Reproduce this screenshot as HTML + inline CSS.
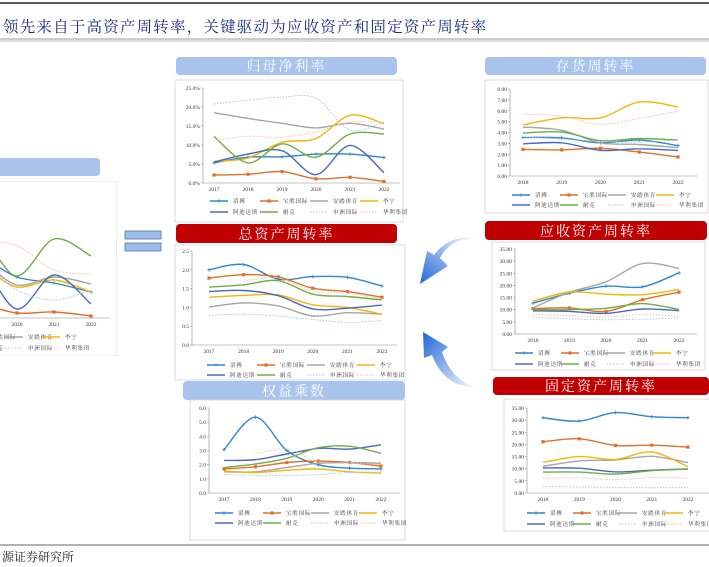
<!DOCTYPE html>
<html><head><meta charset="utf-8"><style>
html,body{margin:0;padding:0;background:#fff;}
svg{display:block;font-family:"Liberation Serif","Noto Serif CJK SC",serif;}
</style></head><body>
<svg id="s" width="709" height="567" viewBox="0 0 709 567" xmlns="http://www.w3.org/2000/svg">
<defs>
<linearGradient id="ag1" x1="1" y1="0" x2="0" y2="1"><stop offset="0" stop-color="#ffffff"/><stop offset="1" stop-color="#1f66d6"/></linearGradient>
<linearGradient id="ag2" x1="1" y1="1" x2="0" y2="0"><stop offset="0" stop-color="#ffffff"/><stop offset="1" stop-color="#1f66d6"/></linearGradient>
<clipPath id="cl"><rect x="0" y="181" width="117" height="175"/></clipPath>
</defs>
<line x1="0" y1="3" x2="709" y2="3" stroke="#222" stroke-width="1.5"/>
<text x="3" y="32" font-size="15.5" fill="#1a2a8a" letter-spacing="1.2" font-family="'Noto Serif CJK SC',serif">领先来自于高资产周转率，关键驱动为应收资产和固定资产周转率</text>
<line x1="0" y1="39" x2="709" y2="39" stroke="#999" stroke-width="1"/>
<line x1="0" y1="41" x2="709" y2="41" stroke="#bbb" stroke-width="1"/>
<line x1="0" y1="545" x2="709" y2="545" stroke="#333" stroke-width="0.8"/>
<text x="2" y="561" font-size="12" fill="#222" font-family="'Noto Serif CJK SC',serif">源证券研究所</text>
<rect x="125" y="231" width="36" height="8" fill="#9dbbeb" stroke="#5577aa" stroke-width="0.8"/>
<rect x="125" y="243" width="36" height="8" fill="#9dbbeb" stroke="#5577aa" stroke-width="0.8"/>
<path d="M478,240 C462,236 447,244 440,258 L448,266 L420,284 L427,251 L434,255 C445,240 462,234 478,240 Z" fill="url(#ag1)"/>
<path d="M478,386 C462,385 449,372 442,352 L448,347 L423,332 L424,358 L432,355 C440,377 458,390 478,386 Z" fill="url(#ag2)"/>
<g id="charts"></g>
</svg>
<script>
const names=["滔搏","宝胜国际","安踏体育","李宁","阿迪达斯","耐克","申洲国际","华利集团"];
const colors=["#2f86c8","#e0702a","#a5a5a5","#f2b705","#4a68c0","#6fae45","#a9c8ee","#f6bfa5"];
const yrs6=["2017","2018","2019","2020","2021","2022"];
const yrs5=["2018","2019","2020","2021","2022"];
// 归母净利率 (%)
const npm_taobo=[5.3,6.8,6.9,7.6,7.6,6.7];
const npm_baosheng=[2.1,2.3,3.0,1.1,1.5,0.4];
const npm_anta=[18.5,17.0,15.7,14.5,15.7,14.2];
const npm_lining=[5.7,6.6,10.7,11.7,17.8,15.6];
const npm_adidas=[5.5,7.6,8.5,2.2,9.9,2.7];
const npm_nike=[12.3,5.3,10.3,6.8,12.9,12.9];
const npm_shenzhou=[20.8,21.8,22.6,22.3,14.0,16.0];
const npm_huali=[11.2,12.3,12.0,13.5,16.0,16.0];
const npm_ticks=[0,5,10,15,20,25];
// 总资产周转率
const tat_taobo=[2.0,2.14,1.75,1.82,1.8,1.57];
const tat_baosheng=[1.78,1.87,1.81,1.51,1.42,1.27];
const tat_anta=[1.01,1.12,1.04,0.77,0.86,0.82];
const tat_lining=[1.27,1.32,1.33,1.07,1.0,0.82];
const tat_adidas=[1.42,1.45,1.31,0.96,0.98,1.06];
const tat_nike=[1.54,1.6,1.71,1.35,1.29,1.2];
const tat_shenzhou=[0.79,0.82,0.77,0.68,0.6,0.65];
const tat_huali=[null,1.7,1.78,1.42,1.38,1.22];
const tat_ticks=[0,0.5,1.0,1.5,2.0,2.5];
// 权益乘数
const em_taobo=[3.05,5.35,3.0,2.0,1.75,1.7];
const em_baosheng=[1.7,1.85,2.15,2.25,2.15,1.9];
const em_anta=[1.5,1.5,1.8,2.1,2.15,2.1];
const em_lining=[1.55,1.45,1.6,1.7,1.5,1.4];
const em_adidas=[2.3,2.35,2.75,3.15,3.1,3.4];
const em_nike=[1.8,2.05,2.45,3.2,3.3,2.8];
const em_shenzhou=[1.3,1.25,1.25,1.3,1.45,1.5];
const em_huali=[null,2.75,3.1,2.2,2.1,2.0];
const em_ticks=[0,1,2,3,4,5,6];
// 存货周转率
const inv_taobo=[3.55,3.5,3.05,3.3,2.8];
const inv_baosheng=[2.45,2.4,2.55,2.2,1.75];
const inv_anta=[4.5,4.2,3.05,2.9,2.6];
const inv_lining=[4.7,5.35,5.35,6.8,6.35];
const inv_adidas=[2.95,3.05,2.35,2.5,2.35];
const inv_nike=[3.95,4.05,3.25,3.45,3.3];
const inv_shenzhou=[3.6,3.4,3.2,3.1,3.3];
const inv_huali=[5.7,5.5,4.75,5.3,5.95];
const inv_ticks=[0,1,2,3,4,5,6,7,8];
// 应收资产周转率
const ar_taobo=[12.7,16.8,19.7,19.4,25.2];
const ar_baosheng=[10.5,10.7,9.3,14.1,17.2];
const ar_anta=[10.8,17.2,21.5,29.0,27.0];
const ar_lining=[13.5,17.3,16.4,16.2,18.3];
const ar_adidas=[9.5,9.3,8.5,10.3,9.6];
const ar_nike=[10.0,10.0,10.6,12.5,10.1];
const ar_shenzhou=[6.7,6.2,5.9,6.1,6.6];
const ar_huali=[8.2,7.6,7.0,8.1,7.3];
const ar_ticks=[0,5,10,15,20,25,30,35];
// 固定资产周转率
const fa_taobo=[31.0,29.6,33.1,31.4,31.0];
const fa_baosheng=[21.1,22.3,19.6,19.7,18.9];
const fa_anta=[11.0,13.2,13.6,15.1,12.5];
const fa_lining=[12.6,15.0,13.8,16.9,10.8];
const fa_adidas=[10.3,10.2,8.7,9.4,9.9];
const fa_nike=[8.6,8.6,7.8,9.2,9.8];
const fa_shenzhou=[2.7,2.5,2.3,2.2,2.3];
const fa_huali=[6.0,6.2,5.5,6.4,6.1];
const fa_ticks=[0,5,10,15,20,25,30,35];
// ROE (left, partially visible)
const roe_taobo=[30,29,30,20.5,17.5,13];
const roe_baosheng=[4,4.5,6.5,2.5,3,1];
const roe_anta=[28,26,28,16.5,20.5,17];
const roe_lining=[9,10,24,15.5,19,13];
const roe_adidas=[13,18,26,4.5,21.5,7];
const roe_nike=[24,12,38,21,39.5,31];
const roe_shenzhou=[26,27,28,14,9,14];
const roe_huali=[null,34,38,36,24,22];
const roe_years=["2017","2018","2019","2020","2021","2022"];

const NS="http://www.w3.org/2000/svg";
const root=document.getElementById('charts');
function mk(tag,attrs,parent){const e=document.createElementNS(NS,tag);for(const k in attrs)e.setAttribute(k,attrs[k]);(parent||root).appendChild(e);return e;}
function smooth(pts){
  let d="M"+pts[0][0].toFixed(1)+","+pts[0][1].toFixed(1);
  for(let i=0;i<pts.length-1;i++){
    const p0=pts[i-1]||pts[i],p1=pts[i],p2=pts[i+1],p3=pts[i+2]||p2;
    const c1=[p1[0]+(p2[0]-p0[0])/6,p1[1]+(p2[1]-p0[1])/6];
    const c2=[p2[0]-(p3[0]-p1[0])/6,p2[1]-(p3[1]-p1[1])/6];
    d+=" C"+c1[0].toFixed(1)+","+c1[1].toFixed(1)+" "+c2[0].toFixed(1)+","+c2[1].toFixed(1)+" "+p2[0].toFixed(1)+","+p2[1].toFixed(1);
  }
  return d;
}
function header(x,y,w,h,text,red,name){
  const r=mk('rect',{x:x,y:y,width:w,height:h,rx:4,fill:red?"#c00000":"#a8c3ec"});
  
  
  if(!text)return;
  const t=mk('text',{x:x+w/2,y:y+h-4,'text-anchor':'middle','font-size':14,fill:'#fff','letter-spacing':2,'font-family':"'Noto Serif CJK SC',serif"});
  t.textContent=text;
  
  
}
function chart(c){
  const g=mk('g',c.clip?{'clip-path':'url(#cl)'}:{});
  
  
  const b=mk('rect',{x:c.box[0],y:c.box[1],width:c.box[2],height:c.box[3],fill:'#fff',stroke:'#d6d6d6','stroke-width':0.8},g);
  
  
  const n=c.cats.length;
  const X=i=>c.x0+(c.x1-c.x0)*i/(n-1);
  const Y=v=>c.yb-(v-c.vmin)/(c.vmax-c.vmin)*(c.yb-c.yt);
  const ax=mk('line',{x1:c.axL,y1:c.yb,x2:c.axR,y2:c.yb,stroke:'#888','stroke-width':0.6},g);
  
  
  if(c.ticks){
    const ay=mk('line',{x1:c.axL,y1:c.yt,x2:c.axL,y2:c.yb,stroke:'#888','stroke-width':0.6},g);
    
    
    c.ticks.forEach(v=>{
      const t=mk('text',{x:c.axL-3,y:Y(v)+2,'text-anchor':'end','font-size':5.5,fill:'#333'},g);
      t.textContent=c.fmt(v);
      
      
      mk('line',{x1:c.axL-2,y1:Y(v),x2:c.axL,y2:Y(v),stroke:'#888','stroke-width':0.5},g);
    });
  }
  c.cats.forEach((cat,i)=>{
    const t=mk('text',{x:X(i),y:c.yb+8,'text-anchor':'middle','font-size':5.5,fill:'#333'},g);
    t.textContent=cat;
    
    
  });
  c.series.forEach((s,k)=>{
    const pts=[];s.forEach((v,i)=>{if(v!==null&&v!==undefined)pts.push([X(i),Y(v)]);});
    const dotted=k>=6;
    const p=mk('path',{d:smooth(pts),fill:'none',stroke:colors[k],'stroke-width':dotted?1:1.4,'stroke-dasharray':dotted?'1.5,1.5':'none'},g);
    
    
    if(k===0)pts.forEach(q=>{const m=mk('path',{d:`M${q[0]-1.8},${q[1]}h3.6M${q[0]},${q[1]-1.8}v3.6`,stroke:colors[0],'stroke-width':0.8},g);});
    if(k===1)pts.forEach(q=>{const m=mk('rect',{x:q[0]-1.6,y:q[1]-1.6,width:3.2,height:3.2,fill:colors[1]},g);});
  });
  names.forEach((nm,k)=>{
    const lx=c.lx+(k%4)*c.lstep, ly=c.ly+Math.floor(k/4)*c.lrow;
    const dotted=k>=6;
    const l=mk('line',{x1:lx,y1:ly,x2:lx+18,y2:ly,stroke:colors[k],'stroke-width':dotted?0.9:1.4,'stroke-dasharray':dotted?'1.5,1.5':'none'},g);
    
    
    if(k===0)mk('path',{d:`M${lx+7.2},${ly}h3.6M${lx+9},${ly-1.8}v3.6`,stroke:colors[0],'stroke-width':0.8},g);
    if(k===1)mk('rect',{x:lx+7.4,y:ly-1.6,width:3.2,height:3.2,fill:colors[1]},g);
    const t=mk('text',{x:lx+23,y:ly+2,'font-size':5.5,fill:'#333','font-family':"'Noto Serif CJK SC',serif",'letter-spacing':0.8},g);
    t.textContent=nm;
    
    
  });
}
const f1=v=>v.toFixed(1), f2=v=>v.toFixed(2), fp=v=>v.toFixed(1)+"%";
header(176,57,221,18,"归母净利率",false,"net-margin");
chart({name:'net-margin',box:[175,80,228,142],cats:yrs6,x0:214,x1:384,yt:88,yb:183,vmin:0,vmax:25,axL:203,axR:400,ticks:npm_ticks,fmt:fp,
 series:[npm_taobo,npm_baosheng,npm_anta,npm_lining,npm_adidas,npm_nike,npm_shenzhou,npm_huali],lx:210,ly:201,lstep:50,lrow:11});
header(176,224,221,19,"总资产周转率",true,"asset-turnover");
chart({name:'asset-turnover',box:[175,245,230,135],cats:yrs6,x0:209,x1:382,yt:251,yb:345,vmin:0,vmax:2.5,axL:192,axR:397,ticks:tat_ticks,fmt:f1,
 series:[tat_taobo,tat_baosheng,tat_anta,tat_lining,tat_adidas,tat_nike,tat_shenzhou,tat_huali],lx:207,ly:365,lstep:50,lrow:10});
header(183,381,222,19,"权益乘数",false,"equity-multiplier");
chart({name:'equity-multiplier',box:[190,400,215,140],cats:yrs6,x0:224,x1:381,yt:408,yb:493,vmin:0,vmax:6,axL:209,axR:400,ticks:em_ticks,fmt:f1,
 series:[em_taobo,em_baosheng,em_anta,em_lining,em_adidas,em_nike,em_shenzhou,em_huali],lx:215,ly:513,lstep:48,lrow:10});
header(485,57,221,18,"存货周转率",false,"inventory-turnover");
chart({name:'inventory-turnover',box:[485,80,223,133],cats:yrs5,x0:523,x1:678,yt:89,yb:176,vmin:0,vmax:8,axL:510,axR:697,ticks:inv_ticks,fmt:f2,
 series:[inv_taobo,inv_baosheng,inv_anta,inv_lining,inv_adidas,inv_nike,inv_shenzhou,inv_huali],lx:512,ly:195,lstep:48,lrow:10});
header(485,221,222,19,"应收资产周转率",true,"receivable-turnover");
chart({name:'receivable-turnover',box:[492,242,213,128],cats:yrs5,x0:533,x1:679,yt:249,yb:334,vmin:0,vmax:35,axL:515,axR:697,ticks:ar_ticks,fmt:f2,
 series:[ar_taobo,ar_baosheng,ar_anta,ar_lining,ar_adidas,ar_nike,ar_shenzhou,ar_huali],lx:515,ly:353,lstep:46,lrow:11});
header(493,377,216,18,"固定资产周转率",true,"fixed-asset-turnover");
chart({name:'fixed-asset-turnover',box:[504,399,210,132],cats:yrs5,x0:543,x1:688,yt:408,yb:493,vmin:0,vmax:35,axL:527,axR:709,ticks:fa_ticks,fmt:f2,
 series:[fa_taobo,fa_baosheng,fa_anta,fa_lining,fa_adidas,fa_nike,fa_shenzhou,fa_huali],lx:527,ly:513,lstep:46,lrow:11});
header(-20,158,120,18,"",false,"roe");
chart({name:'roe',clip:true,box:[-20,181,137,175],cats:roe_years,x0:-94,x1:91,yt:190,yb:318,vmin:0,vmax:64,axL:-20,axR:110,ticks:null,fmt:f1,
 series:[roe_taobo,roe_baosheng,roe_anta,roe_lining,roe_adidas,roe_nike,roe_shenzhou,roe_huali],lx:-69,ly:337,lstep:37,lrow:11});
</script>
</body></html>
